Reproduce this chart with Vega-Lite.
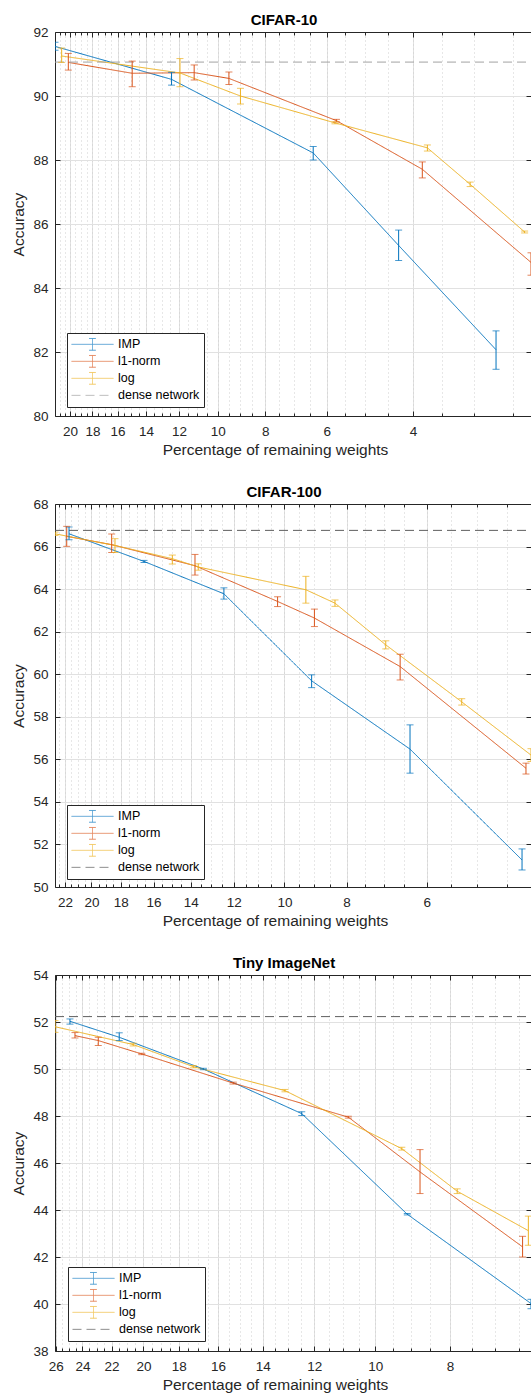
{
  "$schema": "https://vega.github.io/schema/vega-lite/v6.json",
  "background": "white",
  "padding": {"left": 11, "top": 13, "right": 0, "bottom": 0},
  "autosize": {"type": "pad"},
  "spacing": 88,
  "bounds": "flush",
  "config": {
    "view": {"stroke": null},
    "font": "Liberation Sans",
    "axis": {"labelFont": "Liberation Sans", "labelFontSize": 13.5, "labelColor": "#262626", "titleFont": "Liberation Sans", "titleFontSize": 15.5, "titleFontWeight": "normal", "titleColor": "#262626", "domainColor": "#262626", "tickColor": "#262626", "gridColor": "#e1e1e1", "gridOpacity": 1, "labelFlush": false, "labelOverlap": false},
    "title": {"font": "Liberation Sans", "fontSize": 15, "fontWeight": "bold", "color": "#000000", "offset": -3, "dx": -9},
    "legend": {"labelFont": "Liberation Sans", "labelFontSize": 12.5, "labelColor": "#000000", "strokeColor": "#262626", "fillColor": "white", "padding": 4, "rowPadding": 2, "clipHeight": 14.7, "symbolSize": 1764, "symbolStrokeWidth": 1, "labelOffset": 4, "title": null}
  },
  "datasets": {
    "c10": [
      {"series": "IMP", "x": 21.46, "y": 91.55, "lo": 91.43, "hi": 91.68},
      {"series": "IMP", "x": 12.42, "y": 90.52, "lo": 90.34, "hi": 90.74},
      {"series": "IMP", "x": 6.39, "y": 88.22, "lo": 88.0, "hi": 88.42},
      {"series": "IMP", "x": 4.28, "y": 85.33, "lo": 84.86, "hi": 85.81},
      {"series": "IMP", "x": 2.71, "y": 82.07, "lo": 81.46, "hi": 82.66},
      {"series": "l1-norm", "x": 20.16, "y": 91.05, "lo": 90.81, "hi": 91.33},
      {"series": "l1-norm", "x": 14.94, "y": 90.71, "lo": 90.29, "hi": 91.09},
      {"series": "l1-norm", "x": 11.17, "y": 90.73, "lo": 90.5, "hi": 90.97},
      {"series": "l1-norm", "x": 9.49, "y": 90.55, "lo": 90.36, "hi": 90.75},
      {"series": "l1-norm", "x": 5.73, "y": 89.23, "lo": 89.19, "hi": 89.27},
      {"series": "l1-norm", "x": 3.83, "y": 87.71, "lo": 87.44, "hi": 87.94},
      {"series": "l1-norm", "x": 2.30, "y": 84.8, "lo": 84.4, "hi": 85.1},
      {"series": "log", "x": 20.80, "y": 91.25, "lo": 91.05, "hi": 91.5},
      {"series": "log", "x": 11.94, "y": 90.72, "lo": 90.29, "hi": 91.17},
      {"series": "log", "x": 8.99, "y": 90.0, "lo": 89.75, "hi": 90.24},
      {"series": "log", "x": 5.77, "y": 89.16, "lo": 89.13, "hi": 89.19},
      {"series": "log", "x": 3.74, "y": 88.38, "lo": 88.28, "hi": 88.47},
      {"series": "log", "x": 3.06, "y": 87.24, "lo": 87.17, "hi": 87.31},
      {"series": "log", "x": 2.37, "y": 85.75, "lo": 85.72, "hi": 85.78},
      {"series": "dense network", "x": 2.30, "y": 91.06},
      {"series": "dense network", "x": 21.46, "y": 91.06}
    ],
    "c100": [
      {"series": "IMP", "x": 21.68, "y": 66.6, "lo": 66.32, "hi": 66.92},
      {"series": "IMP", "x": 16.56, "y": 65.3, "lo": 65.25, "hi": 65.35},
      {"series": "IMP", "x": 12.43, "y": 63.78, "lo": 63.53, "hi": 64.06},
      {"series": "IMP", "x": 9.07, "y": 59.69, "lo": 59.37, "hi": 59.97},
      {"series": "IMP", "x": 6.37, "y": 56.48, "lo": 55.35, "hi": 57.62},
      {"series": "IMP", "x": 4.26, "y": 51.27, "lo": 50.8, "hi": 51.79},
      {"series": "l1-norm", "x": 21.86, "y": 66.48, "lo": 66.01, "hi": 66.95},
      {"series": "l1-norm", "x": 18.60, "y": 66.09, "lo": 65.72, "hi": 66.59},
      {"series": "l1-norm", "x": 13.79, "y": 65.10, "lo": 64.66, "hi": 65.63},
      {"series": "l1-norm", "x": 10.25, "y": 63.42, "lo": 63.18, "hi": 63.64},
      {"series": "l1-norm", "x": 8.98, "y": 62.64, "lo": 62.24, "hi": 63.06},
      {"series": "l1-norm", "x": 6.60, "y": 60.36, "lo": 59.73, "hi": 60.94},
      {"series": "l1-norm", "x": 4.20, "y": 55.58, "lo": 55.31, "hi": 55.82},
      {"series": "log", "x": 22.80, "y": 66.6, "lo": 66.52, "hi": 66.68},
      {"series": "log", "x": 18.38, "y": 66.05, "lo": 65.72, "hi": 66.37},
      {"series": "log", "x": 14.96, "y": 65.43, "lo": 65.18, "hi": 65.6},
      {"series": "log", "x": 13.63, "y": 65.04, "lo": 64.89, "hi": 65.19},
      {"series": "log", "x": 9.26, "y": 63.97, "lo": 63.34, "hi": 64.6},
      {"series": "log", "x": 8.34, "y": 63.34, "lo": 63.19, "hi": 63.49},
      {"series": "log", "x": 6.95, "y": 61.38, "lo": 61.19, "hi": 61.57},
      {"series": "log", "x": 5.29, "y": 58.7, "lo": 58.55, "hi": 58.85},
      {"series": "log", "x": 4.125, "y": 56.2, "lo": 55.9, "hi": 56.5},
      {"series": "dense network", "x": 4.125, "y": 66.76},
      {"series": "dense network", "x": 22.80, "y": 66.76}
    ],
    "tin": [
      {"series": "IMP", "x": 24.91, "y": 52.03, "lo": 51.91, "hi": 52.13},
      {"series": "IMP", "x": 21.50, "y": 51.35, "lo": 51.21, "hi": 51.54},
      {"series": "IMP", "x": 16.72, "y": 50.0, "lo": 49.97, "hi": 50.03},
      {"series": "IMP", "x": 12.46, "y": 48.10, "lo": 48.02, "hi": 48.18},
      {"series": "IMP", "x": 9.09, "y": 43.82, "lo": 43.79, "hi": 43.85},
      {"series": "IMP", "x": 6.28, "y": 40.02, "lo": 39.8, "hi": 40.2},
      {"series": "l1-norm", "x": 24.54, "y": 51.42, "lo": 51.32, "hi": 51.55},
      {"series": "l1-norm", "x": 22.89, "y": 51.21, "lo": 51.0, "hi": 51.35},
      {"series": "l1-norm", "x": 20.10, "y": 50.64, "lo": 50.61, "hi": 50.67},
      {"series": "l1-norm", "x": 15.29, "y": 49.40, "lo": 49.36, "hi": 49.44},
      {"series": "l1-norm", "x": 10.84, "y": 47.95, "lo": 47.91, "hi": 47.99},
      {"series": "l1-norm", "x": 8.75, "y": 45.62, "lo": 44.7, "hi": 46.57},
      {"series": "l1-norm", "x": 6.44, "y": 42.43, "lo": 42.0, "hi": 42.88},
      {"series": "log", "x": 26.05, "y": 51.80, "lo": 51.56, "hi": 52.06},
      {"series": "log", "x": 20.62, "y": 51.04, "lo": 50.98, "hi": 51.1},
      {"series": "log", "x": 17.23, "y": 50.10, "lo": 50.05, "hi": 50.15},
      {"series": "log", "x": 13.10, "y": 49.08, "lo": 49.03, "hi": 49.13},
      {"series": "log", "x": 9.24, "y": 46.61, "lo": 46.55, "hi": 46.67},
      {"series": "log", "x": 7.83, "y": 44.80, "lo": 44.7, "hi": 44.9},
      {"series": "log", "x": 6.33, "y": 43.12, "lo": 42.5, "hi": 43.74},
      {"series": "dense network", "x": 6.28, "y": 52.23},
      {"series": "dense network", "x": 26.05, "y": 52.23}
    ]
  },
  "resolve": {"scale": {"color": "independent", "strokeDash": "independent", "shape": "independent", "x": "independent", "y": "independent"}, "legend": {"color": "independent", "strokeDash": "independent", "shape": "independent"}},
  "vconcat": [
    {
      "title": {"text": "CIFAR-10"},
      "width": 476, "height": 384,
      "data": {"name": "c10"},
      "resolve": {"axis": {"x": "independent", "y": "independent"}},
      "layer": [
        {"mark": {"type": "line", "strokeWidth": 1, "clip": true},
         "encoding": {
           "x": {"field": "x", "type": "quantitative", "scale": {"type": "log", "domain": [2.30, 21.46], "reverse": true, "nice": false, "zero": false}, "axis": {"orient": "bottom", "values": [4, 6, 8, 10, 12, 14, 16, 18, 20], "title": "Percentage of remaining weights", "titleX": 220, "grid": true, "ticks": false, "labelPadding": 8, "titlePadding": 5, "domain": true}},
           "y": {"field": "y", "type": "quantitative", "scale": {"domain": [80, 92], "nice": false, "zero": false}, "axis": {"values": [80, 82, 84, 86, 88, 90, 92], "title": "Accuracy", "grid": true, "ticks": false, "labelPadding": 7, "titlePadding": 6}},
           "color": {"field": "series", "type": "nominal", "scale": {"domain": ["IMP", "l1-norm", "log", "dense network"], "range": ["#0072BD", "#D95319", "#EDB120", "#a3a3a3"]}, "legend": {"orient": "none", "legendX": 12, "legendY": 301}},
           "strokeDash": {"field": "series", "type": "nominal", "scale": {"domain": ["IMP", "l1-norm", "log", "dense network"], "range": [[1, 0], [1, 0], [1, 0], [9, 5]]}, "legend": {"orient": "none", "legendX": 12, "legendY": 301}}
         }},
        {"transform": [{"filter": "isValid(datum.lo)"}],
         "mark": {"type": "rule", "strokeWidth": 1, "clip": true},
         "encoding": {
           "x": {"field": "x", "type": "quantitative", "axis": {"orient": "bottom", "values": [2.5, 3, 3.5, 4, 4.5, 5, 5.5, 6, 6.5, 7, 7.5, 8, 8.5, 9, 9.5, 10, 10.5, 11, 11.5, 12, 12.5, 13, 13.5, 14, 14.5, 15, 15.5, 16, 16.5, 17, 17.5, 18, 18.5, 19, 19.5, 20, 20.5, 21], "title": null, "labels": false, "domain": false, "grid": true, "gridDash": [1, 3], "gridColor": "#cfcfcf", "ticks": true, "tickSize": -3}},
           "y": {"field": "lo", "type": "quantitative", "axis": {"orient": "right", "values": [80, 82, 84, 86, 88, 90, 92], "title": null, "labels": false, "grid": false, "ticks": true, "tickSize": -5, "domain": true}},
           "y2": {"field": "hi"},
           "color": {"field": "series", "type": "nominal"}
         }},
        {"transform": [{"filter": "isValid(datum.lo)"}],
         "mark": {"type": "tick", "orient": "horizontal", "size": 7, "thickness": 1, "clip": true},
         "encoding": {
           "x": {"field": "x", "type": "quantitative", "axis": {"orient": "top", "values": [4, 6, 8, 10, 12, 14, 16, 18, 20], "title": null, "labels": false, "grid": false, "ticks": true, "tickSize": -5, "domain": true}},
           "y": {"field": "lo", "type": "quantitative", "axis": {"orient": "left", "values": [80, 82, 84, 86, 88, 90, 92], "title": null, "labels": false, "grid": false, "ticks": true, "tickSize": -5, "domain": false}},
           "color": {"field": "series", "type": "nominal"}
         }},
        {"transform": [{"filter": "isValid(datum.lo)"}],
         "mark": {"type": "tick", "orient": "horizontal", "size": 7, "thickness": 1, "clip": true},
         "encoding": {
           "x": {"field": "x", "type": "quantitative", "axis": {"orient": "bottom", "values": [4, 6, 8, 10, 12, 14, 16, 18, 20], "title": null, "labels": false, "grid": false, "ticks": true, "tickSize": -5, "domain": false}},
           "y": {"field": "hi", "type": "quantitative", "axis": null},
           "color": {"field": "series", "type": "nominal"}
         }},
        {"transform": [{"filter": "false"}],
         "mark": {"type": "point", "filled": false, "strokeWidth": 1},
         "encoding": {
           "x": {"field": "x", "type": "quantitative", "axis": {"orient": "top", "values": [2.5, 3, 3.5, 4, 4.5, 5, 5.5, 6, 6.5, 7, 7.5, 8, 8.5, 9, 9.5, 10, 10.5, 11, 11.5, 12, 12.5, 13, 13.5, 14, 14.5, 15, 15.5, 16, 16.5, 17, 17.5, 18, 18.5, 19, 19.5, 20, 20.5, 21], "title": null, "labels": false, "grid": false, "ticks": true, "tickSize": -3, "domain": false}},
           "y": {"field": "y", "type": "quantitative", "axis": null},
           "color": {"field": "series", "type": "nominal"},
           "strokeDash": {"field": "series", "type": "nominal"},
           "shape": {"field": "series", "type": "nominal", "scale": {"domain": ["IMP", "l1-norm", "log", "dense network"], "range": ["M-1,0H1M0,-0.28V0.28M-0.16,-0.28H0.16M-0.16,0.28H0.16", "M-1,0H1M0,-0.28V0.28M-0.16,-0.28H0.16M-0.16,0.28H0.16", "M-1,0H1M0,-0.28V0.28M-0.16,-0.28H0.16M-0.16,0.28H0.16", "M-1,0H1"]}, "legend": {"orient": "none", "legendX": 12, "legendY": 301}}
         }}
      ]
    },
    {
      "title": {"text": "CIFAR-100"},
      "width": 476, "height": 383,
      "data": {"name": "c100"},
      "resolve": {"axis": {"x": "independent", "y": "independent"}},
      "layer": [
        {"mark": {"type": "line", "strokeWidth": 1, "clip": true},
         "encoding": {
           "x": {"field": "x", "type": "quantitative", "scale": {"type": "log", "domain": [4.125, 22.80], "reverse": true, "nice": false, "zero": false}, "axis": {"orient": "bottom", "values": [6, 8, 10, 12, 14, 16, 18, 20, 22], "title": "Percentage of remaining weights", "titleX": 220, "grid": true, "ticks": false, "labelPadding": 8, "titlePadding": 5, "domain": true}},
           "y": {"field": "y", "type": "quantitative", "scale": {"domain": [50, 68], "nice": false, "zero": false}, "axis": {"values": [50, 52, 54, 56, 58, 60, 62, 64, 66, 68], "title": "Accuracy", "grid": true, "ticks": false, "labelPadding": 7, "titlePadding": 6}},
           "color": {"field": "series", "type": "nominal", "scale": {"domain": ["IMP", "l1-norm", "log", "dense network"], "range": ["#0072BD", "#D95319", "#EDB120", "#5f5f5f"]}, "legend": {"orient": "none", "legendX": 12, "legendY": 301}},
           "strokeDash": {"field": "series", "type": "nominal", "scale": {"domain": ["IMP", "l1-norm", "log", "dense network"], "range": [[1, 0], [1, 0], [1, 0], [9, 5]]}, "legend": {"orient": "none", "legendX": 12, "legendY": 301}}
         }},
        {"transform": [{"filter": "isValid(datum.lo)"}],
         "mark": {"type": "rule", "strokeWidth": 1, "clip": true},
         "encoding": {
           "x": {"field": "x", "type": "quantitative", "axis": {"orient": "bottom", "values": [4.5, 5, 5.5, 6, 6.5, 7, 7.5, 8, 8.5, 9, 9.5, 10, 10.5, 11, 11.5, 12, 12.5, 13, 13.5, 14, 14.5, 15, 15.5, 16, 16.5, 17, 17.5, 18, 18.5, 19, 19.5, 20, 20.5, 21, 21.5, 22, 22.5], "title": null, "labels": false, "domain": false, "grid": true, "gridDash": [1, 3], "gridColor": "#cfcfcf", "ticks": true, "tickSize": -3}},
           "y": {"field": "lo", "type": "quantitative", "axis": {"orient": "right", "values": [50, 52, 54, 56, 58, 60, 62, 64, 66, 68], "title": null, "labels": false, "grid": false, "ticks": true, "tickSize": -5, "domain": true}},
           "y2": {"field": "hi"},
           "color": {"field": "series", "type": "nominal"}
         }},
        {"transform": [{"filter": "isValid(datum.lo)"}],
         "mark": {"type": "tick", "orient": "horizontal", "size": 7, "thickness": 1, "clip": true},
         "encoding": {
           "x": {"field": "x", "type": "quantitative", "axis": {"orient": "top", "values": [6, 8, 10, 12, 14, 16, 18, 20, 22], "title": null, "labels": false, "grid": false, "ticks": true, "tickSize": -5, "domain": true}},
           "y": {"field": "lo", "type": "quantitative", "axis": {"orient": "left", "values": [50, 52, 54, 56, 58, 60, 62, 64, 66, 68], "title": null, "labels": false, "grid": false, "ticks": true, "tickSize": -5, "domain": false}},
           "color": {"field": "series", "type": "nominal"}
         }},
        {"transform": [{"filter": "isValid(datum.lo)"}],
         "mark": {"type": "tick", "orient": "horizontal", "size": 7, "thickness": 1, "clip": true},
         "encoding": {
           "x": {"field": "x", "type": "quantitative", "axis": {"orient": "bottom", "values": [6, 8, 10, 12, 14, 16, 18, 20, 22], "title": null, "labels": false, "grid": false, "ticks": true, "tickSize": -5, "domain": false}},
           "y": {"field": "hi", "type": "quantitative", "axis": null},
           "color": {"field": "series", "type": "nominal"}
         }},
        {"transform": [{"filter": "false"}],
         "mark": {"type": "point", "filled": false, "strokeWidth": 1},
         "encoding": {
           "x": {"field": "x", "type": "quantitative", "axis": {"orient": "top", "values": [4.5, 5, 5.5, 6, 6.5, 7, 7.5, 8, 8.5, 9, 9.5, 10, 10.5, 11, 11.5, 12, 12.5, 13, 13.5, 14, 14.5, 15, 15.5, 16, 16.5, 17, 17.5, 18, 18.5, 19, 19.5, 20, 20.5, 21, 21.5, 22, 22.5], "title": null, "labels": false, "grid": false, "ticks": true, "tickSize": -3, "domain": false}},
           "y": {"field": "y", "type": "quantitative", "axis": null},
           "color": {"field": "series", "type": "nominal"},
           "strokeDash": {"field": "series", "type": "nominal"},
           "shape": {"field": "series", "type": "nominal", "scale": {"domain": ["IMP", "l1-norm", "log", "dense network"], "range": ["M-1,0H1M0,-0.28V0.28M-0.16,-0.28H0.16M-0.16,0.28H0.16", "M-1,0H1M0,-0.28V0.28M-0.16,-0.28H0.16M-0.16,0.28H0.16", "M-1,0H1M0,-0.28V0.28M-0.16,-0.28H0.16M-0.16,0.28H0.16", "M-1,0H1"]}, "legend": {"orient": "none", "legendX": 12, "legendY": 301}}
         }}
      ]
    },
    {
      "title": {"text": "Tiny ImageNet"},
      "width": 476, "height": 376,
      "data": {"name": "tin"},
      "resolve": {"axis": {"x": "independent", "y": "independent"}},
      "layer": [
        {"mark": {"type": "line", "strokeWidth": 1, "clip": true},
         "encoding": {
           "x": {"field": "x", "type": "quantitative", "scale": {"type": "log", "domain": [6.28, 26.05], "reverse": true, "nice": false, "zero": false}, "axis": {"orient": "bottom", "values": [8, 10, 12, 14, 16, 18, 20, 22, 24, 26], "title": "Percentage of remaining weights", "titleX": 220, "grid": true, "ticks": false, "labelPadding": 8, "titlePadding": 5, "domain": true}},
           "y": {"field": "y", "type": "quantitative", "scale": {"domain": [38, 54], "nice": false, "zero": false}, "axis": {"values": [38, 40, 42, 44, 46, 48, 50, 52, 54], "title": "Accuracy", "grid": true, "ticks": false, "labelPadding": 7, "titlePadding": 6}},
           "color": {"field": "series", "type": "nominal", "scale": {"domain": ["IMP", "l1-norm", "log", "dense network"], "range": ["#0072BD", "#D95319", "#EDB120", "#5f5f5f"]}, "legend": {"orient": "none", "legendX": 13, "legendY": 292}},
           "strokeDash": {"field": "series", "type": "nominal", "scale": {"domain": ["IMP", "l1-norm", "log", "dense network"], "range": [[1, 0], [1, 0], [1, 0], [9, 5]]}, "legend": {"orient": "none", "legendX": 13, "legendY": 292}}
         }},
        {"transform": [{"filter": "isValid(datum.lo)"}],
         "mark": {"type": "rule", "strokeWidth": 1, "clip": true},
         "encoding": {
           "x": {"field": "x", "type": "quantitative", "axis": {"orient": "bottom", "values": [6.5, 7, 7.5, 8, 8.5, 9, 9.5, 10, 10.5, 11, 11.5, 12, 12.5, 13, 13.5, 14, 14.5, 15, 15.5, 16, 16.5, 17, 17.5, 18, 18.5, 19, 19.5, 20, 20.5, 21, 21.5, 22, 22.5, 23, 23.5, 24, 24.5, 25, 25.5, 26], "title": null, "labels": false, "domain": false, "grid": true, "gridDash": [1, 3], "gridColor": "#cfcfcf", "ticks": true, "tickSize": -3}},
           "y": {"field": "lo", "type": "quantitative", "axis": {"orient": "right", "values": [38, 40, 42, 44, 46, 48, 50, 52, 54], "title": null, "labels": false, "grid": false, "ticks": true, "tickSize": -5, "domain": true}},
           "y2": {"field": "hi"},
           "color": {"field": "series", "type": "nominal"}
         }},
        {"transform": [{"filter": "isValid(datum.lo)"}],
         "mark": {"type": "tick", "orient": "horizontal", "size": 7, "thickness": 1, "clip": true},
         "encoding": {
           "x": {"field": "x", "type": "quantitative", "axis": {"orient": "top", "values": [8, 10, 12, 14, 16, 18, 20, 22, 24, 26], "title": null, "labels": false, "grid": false, "ticks": true, "tickSize": -5, "domain": true}},
           "y": {"field": "lo", "type": "quantitative", "axis": {"orient": "left", "values": [38, 40, 42, 44, 46, 48, 50, 52, 54], "title": null, "labels": false, "grid": false, "ticks": true, "tickSize": -5, "domain": false}},
           "color": {"field": "series", "type": "nominal"}
         }},
        {"transform": [{"filter": "isValid(datum.lo)"}],
         "mark": {"type": "tick", "orient": "horizontal", "size": 7, "thickness": 1, "clip": true},
         "encoding": {
           "x": {"field": "x", "type": "quantitative", "axis": {"orient": "bottom", "values": [8, 10, 12, 14, 16, 18, 20, 22, 24, 26], "title": null, "labels": false, "grid": false, "ticks": true, "tickSize": -5, "domain": false}},
           "y": {"field": "hi", "type": "quantitative", "axis": null},
           "color": {"field": "series", "type": "nominal"}
         }},
        {"transform": [{"filter": "false"}],
         "mark": {"type": "point", "filled": false, "strokeWidth": 1},
         "encoding": {
           "x": {"field": "x", "type": "quantitative", "axis": {"orient": "top", "values": [6.5, 7, 7.5, 8, 8.5, 9, 9.5, 10, 10.5, 11, 11.5, 12, 12.5, 13, 13.5, 14, 14.5, 15, 15.5, 16, 16.5, 17, 17.5, 18, 18.5, 19, 19.5, 20, 20.5, 21, 21.5, 22, 22.5, 23, 23.5, 24, 24.5, 25, 25.5, 26], "title": null, "labels": false, "grid": false, "ticks": true, "tickSize": -3, "domain": false}},
           "y": {"field": "y", "type": "quantitative", "axis": null},
           "color": {"field": "series", "type": "nominal"},
           "strokeDash": {"field": "series", "type": "nominal"},
           "shape": {"field": "series", "type": "nominal", "scale": {"domain": ["IMP", "l1-norm", "log", "dense network"], "range": ["M-1,0H1M0,-0.28V0.28M-0.16,-0.28H0.16M-0.16,0.28H0.16", "M-1,0H1M0,-0.28V0.28M-0.16,-0.28H0.16M-0.16,0.28H0.16", "M-1,0H1M0,-0.28V0.28M-0.16,-0.28H0.16M-0.16,0.28H0.16", "M-1,0H1"]}, "legend": {"orient": "none", "legendX": 13, "legendY": 292}}
         }}
      ]
    }
  ]
}
